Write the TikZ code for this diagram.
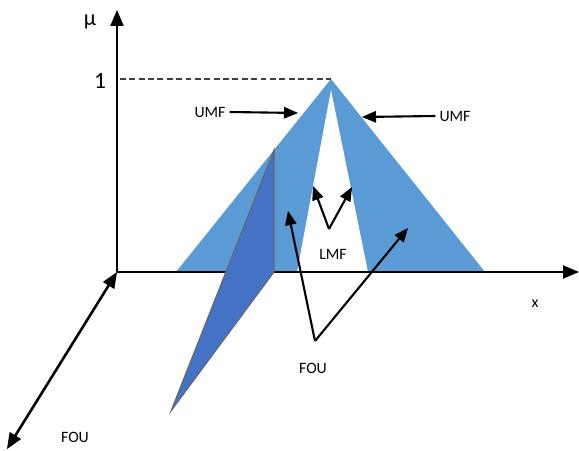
\documentclass[tikz,border=0pt]{standalone}
\usepackage{fontspec}
\setmainfont{Carlito}
\usepackage{tikz}
\usetikzlibrary{positioning, arrows}
\definecolor{umfblue}{RGB}{91,155,213}
\definecolor{foublue}{RGB}{68,114,196}
\tikzset{
  axis/.style={line width=2.2pt, -triangle 45},
  lbl/.style={font=\fontsize{13.5}{13.5}\selectfont},
  pointer/.style={line width=1.8pt, -triangle 45}}

\begin{document}
\begin{tikzpicture}[x=0.3mm, y=-0.3mm]
\useasboundingbox (0,0) rectangle (579,451);
\coordinate (o) at (117,272);
\coordinate (ytip) at (117,10);
\coordinate (xtip) at (579,272);
\coordinate (ztip) at (7,449);
\coordinate (peak) at (331,79);
\coordinate (one) at (120,79);
\coordinate (ul) at (176,272);
\coordinate (ur) at (485,272);
\coordinate (ll) at (297,272);
\coordinate (lr) at (368,272);
\coordinate (lpk) at (331,90);
\coordinate (s1) at (274,150);
\coordinate (s2) at (274,272);
\coordinate (s3) at (171,411);
% membership functions
\fill [umfblue] (ul) -- (peak) -- (ur) -- cycle;
\fill [white] (ll) -- (lpk) -- (lr) -- cycle;
\draw [dash pattern=on 5pt off 3pt, line width=2pt, black!75] (one) -- (peak);
% axes
\draw [axis] (o) -- (ytip);
\draw [axis] (o) -- (xtip);
\draw [axis, triangle 45-triangle 45] (o) -- (ztip);
% slice
\draw [fill=foublue, draw=gray!80!black, line width=0.9pt] (s1) -- (s2) -- (s3) -- cycle;
\node [font=\fontsize{19}{19}\selectfont] (mu) at (90,22) {μ};
\node [font=\fontsize{20}{20}\selectfont] (n1) at (100,81) {1};
\node [lbl] (xlab) at (535,304) {x};
\node [lbl] (umfl) at (210,112) {UMF};
\node [lbl] (umfr) at (455,116) {UMF};
\node [lbl] (lmf) at (333,254) {LMF};
\node [lbl] (foum) at (313,368) {FOU};
\node [lbl] (foub) at (75,437) {FOU};
\coordinate (a1) at (298,113);
\coordinate (a2) at (362,117);
\coordinate (lv) at (329,229);
\coordinate (a3) at (313,186);
\coordinate (a4) at (352,187);
\coordinate (fv) at (315,341);
\coordinate (a5) at (288,211);
\coordinate (a6) at (408,228);
\draw [pointer] (umfl.east) -- (a1);
\draw [pointer] (umfr.west) -- (a2);
\draw [pointer] (lv) -- (a3);
\draw [pointer] (lv) -- (a4);
\draw [pointer] (fv) -- (a5);
\draw [pointer] (fv) -- (a6);
\end{tikzpicture}
\end{document}
